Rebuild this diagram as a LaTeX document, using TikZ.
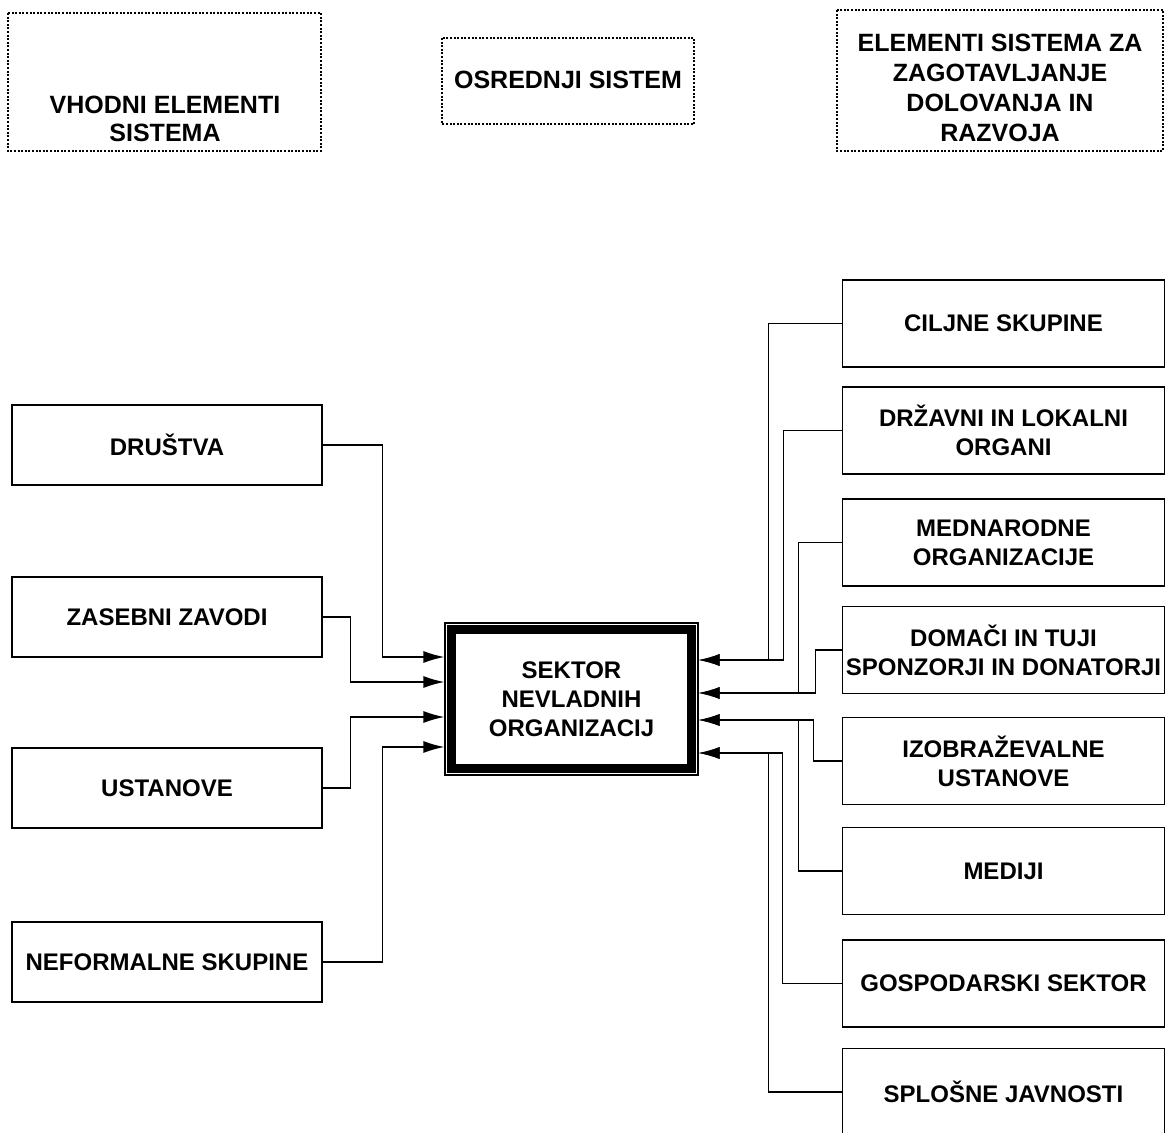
\documentclass[tikz,border=0pt]{standalone}
\usepackage{fontspec}
\setmainfont{Liberation Sans}
\usetikzlibrary{arrows.meta}

\begin{document}
\begin{tikzpicture}[x=0.5pt, y=-0.5pt, font=\bfseries\fontsize{12}{14.5}\selectfont,
        okvir/.style={draw, line width=0.9pt, minimum width=155pt, minimum height=40pt, inner sep=1pt, align=center},
        desno/.style={okvir, minimum width=161pt, minimum height=43.5pt},
        naslov/.style={draw, line width=0.7pt, dash pattern=on 1pt off 0.8pt},
        puscica/.style={line width=0.75pt, -{Latex[length=10.5pt,width=6pt]}}]
        \useasboundingbox (0,0) rectangle (1167,1133);
        % naslovi
        \draw[naslov] (8,13) rectangle (321,151);
        \node[align=center, font=\bfseries\fontsize{12.5}{14}\selectfont] (vhodni) at (165,119) {VHODNI ELEMENTI\\SISTEMA};
        \draw[naslov] (442,38) rectangle (694,124);
        \node[font=\bfseries\fontsize{12.5}{14}\selectfont] (osrednji) at (568,80) {OSREDNJI SISTEM};
        \draw[naslov] (837,10) rectangle (1163,151);
        \node[align=center, font=\bfseries\fontsize{12.5}{15}\selectfont] (elementi) at (1000,88) {ELEMENTI SISTEMA ZA\\ZAGOTAVLJANJE\\DOLOVANJA IN\\RAZVOJA};
        % osrednji sistem
        \node[draw, line width=0.6pt, minimum width=126.5pt, minimum height=76pt, inner sep=0pt, align=center] (sektor) at (571.5,699) {SEKTOR\\NEVLADNIH\\ORGANIZACIJ};
        \draw[line width=4.5pt] ([xshift=3.75pt,yshift=-3.75pt]sektor.north west) rectangle ([xshift=-3.75pt,yshift=3.75pt]sektor.south east);
        \coordinate (l1) at ([yshift=21pt]sektor.west);
        \coordinate (l2) at ([yshift=8.5pt]sektor.west);
        \coordinate (l3) at ([yshift=-9pt]sektor.west);
        \coordinate (l4) at ([yshift=-24pt]sektor.west);
        \coordinate (d1) at ([yshift=19.5pt]sektor.east);
        \coordinate (d2) at ([yshift=3pt]sektor.east);
        \coordinate (d3) at ([yshift=-10.5pt]sektor.east);
        \coordinate (d4) at ([yshift=-27pt]sektor.east);
        % vhodni elementi
        \foreach \ime/\besedilo/\y in {drustva/DRUŠTVA/445, zavodi/ZASEBNI ZAVODI/617, ustanove/USTANOVE/788, neformalne/NEFORMALNE SKUPINE/962}
            \node[okvir] (\ime) at (167,\y) {\besedilo};
        % elementi za delovanje in razvoj
        \foreach \ime/\besedilo/\y in {ciljne/CILJNE SKUPINE/323.5, drzavni/{DRŽAVNI IN LOKALNI\\ORGANI}/430.5,
                mednarodne/{MEDNARODNE\\ORGANIZACIJE}/542.5, sponzorji/{DOMAČI IN TUJI\\SPONZORJI IN DONATORJI}/650,
                izobrazevalne/{IZOBRAŽEVALNE\\USTANOVE}/761, mediji/MEDIJI/871,
                gospodarski/GOSPODARSKI SEKTOR/983.5, splosne/SPLOŠNE JAVNOSTI/1092}
            \node[desno] (\ime) at (1003.5,\y) {\besedilo};
        % povezave levo
        \draw[puscica] (drustva.east) -| ([xshift=-31pt]l1) -- (l1);
        \draw[puscica] (zavodi.east) -| ([xshift=-47pt]l2) -- (l2);
        \draw[puscica] (ustanove.east) -| ([xshift=-47pt]l3) -- (l3);
        \draw[puscica] (neformalne.east) -| ([xshift=-31pt]l4) -- (l4);
        % povezave desno
        \draw[puscica] (ciljne.west) -| ([xshift=35pt]d1) -- (d1);
        \draw[puscica] (drzavni.west) -| ([xshift=42.5pt]d1) -- (d1);
        \draw[puscica] (mednarodne.west) -| ([xshift=50pt]d2) -- (d2);
        \draw[puscica] (sponzorji.west) -| ([xshift=58.5pt]d2) -- (d2);
        \draw[puscica] (izobrazevalne.west) -| ([xshift=57.5pt]d3) -- (d3);
        \draw[puscica] (mediji.west) -| ([xshift=50pt]d3) -- (d3);
        \draw[puscica] (gospodarski.west) -| ([xshift=42pt]d4) -- (d4);
        \draw[puscica] (splosne.west) -| ([xshift=35pt]d4) -- (d4);
    \end{tikzpicture}
\end{document}
